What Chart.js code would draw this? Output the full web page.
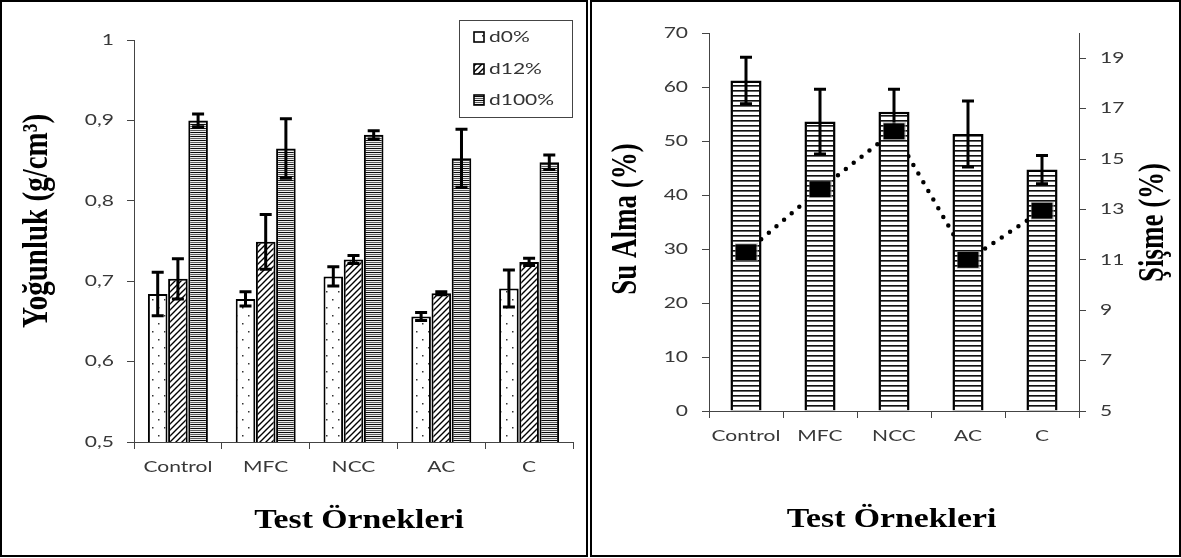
<!DOCTYPE html>
<html>
<head>
<meta charset="utf-8">
<script src="https://cdn.jsdelivr.net/npm/chart.js@4.4.1/dist/chart.umd.min.js"></script>
<style>
  html, body { margin: 0; padding: 0; background: #fff; overflow: hidden; }
  .panel { position: absolute; top: 0; height: 557px; }
  .panel .frame { position: absolute; left: 0; top: 0; right: 0; bottom: 0; border: 2px solid #000; box-sizing: border-box; pointer-events: none; }
  #left { left: 0; width: 588px; }
  #right { left: 590px; width: 591px; }
  canvas { position: absolute; left: 0; top: 0; }
</style>
</head>
<body>
<div class="panel" id="left"><canvas id="densityChart" width="588" height="557"></canvas><div class="frame"></div></div>
<div class="panel" id="right"><canvas id="waterChart" width="591" height="557"></canvas><div class="frame"></div></div>
<script>
// ortak kategoriler
const SAMPLES = ['Control', 'MFC', 'NCC', 'AC', 'C'];

// sol grafik: yoğunluk
const SERIES = ['d0%', 'd12%', 'd100%'];
const D0 = [0.684, 0.678, 0.706, 0.656, 0.691];
const D0_ERR = [0.027, 0.009, 0.012, 0.005, 0.023];
const D12 = [0.703, 0.749, 0.727, 0.685, 0.724];
const D12_ERR = [0.025, 0.034, 0.005, 0.002, 0.0045];
const D100 = [0.900, 0.865, 0.882, 0.853, 0.848];
const D100_ERR = [0.008, 0.037, 0.005, 0.036, 0.009];
const DENSITY_TICKS = [0.5, 0.6, 0.7, 0.8, 0.9, 1];
const DENSITY_TICK_LABELS = ['0,5', '0,6', '0,7', '0,8', '0,9', '1'];

// sağ grafik: su alma (çubuk) ve şişme (çizgi)
const WATER = [61.2, 53.6, 55.4, 51.3, 44.7];
const WATER_ERR = [4.3, 6.0, 4.2, 6.1, 2.6];
const SWELL = [11.3, 13.8, 16.1, 11.0, 12.95];
const WATER_TICKS = [0, 10, 20, 30, 40, 50, 60, 70];
const SWELL_TICKS = [5, 7, 9, 11, 13, 15, 17, 19];

const LABEL_FONT = '15px Lato, "Open Sans", sans-serif';
const TITLE_FONT = 'bold 27px "Liberation Serif", "Times New Roman", serif';
const LABEL_COLOR = '#383838';

function makePattern(w, h, paint) {
  const c = document.createElement('canvas');
  c.width = w; c.height = h;
  const g = c.getContext('2d');
  g.fillStyle = '#fff';
  g.fillRect(0, 0, w, h);
  paint(g);
  return g.createPattern(c, 'repeat');
}

const dotFill = makePattern(12, 16, g => {
  g.fillStyle = '#333';
  g.fillRect(2, 3, 1.5, 1.5);
  g.fillRect(8, 11, 1.5, 1.5);
});
const hatchFill = makePattern(6, 6, g => {
  g.strokeStyle = '#000';
  g.lineWidth = 1.4;
  g.beginPath();
  g.moveTo(-1, 7); g.lineTo(7, -1);
  g.moveTo(-1, 1); g.lineTo(1, -1);
  g.moveTo(5, 7); g.lineTo(7, 5);
  g.stroke();
});
const greyStripes = makePattern(1, 4, g => {
  g.fillStyle = '#0a0a0a'; g.fillRect(0, 0, 1, 1);
  g.fillStyle = '#eeeeee'; g.fillRect(0, 1, 1, 1);
  g.fillStyle = '#5c5c5c'; g.fillRect(0, 2, 1, 1);
  g.fillStyle = '#eeeeee'; g.fillRect(0, 3, 1, 1);
});
const blackStripes = makePattern(1, 5, g => {
  g.fillStyle = '#111'; g.fillRect(0, 0, 1, 1);
  g.fillStyle = '#666'; g.fillRect(0, 1, 1, 1);
});

// kare işaretçi
const marker = document.createElement('canvas');
marker.width = 23; marker.height = 18;
(function () {
  const g = marker.getContext('2d');
  g.fillStyle = '#000';
  g.fillRect(1, 1, 21, 16);
  g.strokeStyle = '#aaa';
  g.setLineDash([1, 1]);
  g.strokeRect(0.5, 0.5, 22, 17);
})();

// metni yatayda genişleterek yaz
function wideText(ctx, text, x, y, o) {
  ctx.save();
  ctx.translate(x, y);
  ctx.scale(o.stretch || 1, 1);
  if (o.rotate) ctx.rotate(o.rotate);
  ctx.font = o.font;
  ctx.fillStyle = o.color || '#000';
  ctx.textAlign = o.align || 'center';
  ctx.textBaseline = 'middle';
  ctx.fillText(text, 0, 0);
  ctx.restore();
}

function drawAxisLabels(chart, id, gap) {
  const s = chart.scales[id];
  const ctx = chart.ctx;
  const base = { font: LABEL_FONT, stretch: 1.4, color: LABEL_COLOR };
  s.ticks.forEach((t, i) => {
    if (s.isHorizontal()) {
      wideText(ctx, t.label, s.getPixelForTick(i), s.top + gap, base);
    } else if (s.position === 'left') {
      wideText(ctx, t.label, s.right - gap, s.getPixelForValue(t.value), Object.assign({ align: 'right' }, base));
    } else {
      wideText(ctx, t.label, s.left + gap, s.getPixelForValue(t.value), Object.assign({ align: 'left' }, base));
    }
  });
}

const errorBars = {
  id: 'errorBars',
  afterDatasetDraw(chart, args) {
    const ds = chart.data.datasets[args.index];
    if (!ds.errorBars) return;
    const yScale = chart.scales[args.meta.yAxisID];
    const ctx = chart.ctx;
    ctx.save();
    ctx.strokeStyle = '#000';
    ctx.lineWidth = 3;
    args.meta.data.forEach((bar, i) => {
      const v = ds.data[i], e = ds.errorBars[i];
      const top = yScale.getPixelForValue(v + e);
      const bot = yScale.getPixelForValue(v - e);
      ctx.beginPath();
      ctx.moveTo(bar.x, top); ctx.lineTo(bar.x, bot);
      ctx.moveTo(bar.x - 6, top); ctx.lineTo(bar.x + 6, top);
      ctx.moveTo(bar.x - 6, bot); ctx.lineTo(bar.x + 6, bot);
      ctx.stroke();
    });
    ctx.restore();
  }
};

const axisLine = { color: '#444', width: 1 };
const tickGrid = { drawOnChartArea: false, tickLength: 7, color: '#444' };

// ---------- sol ----------
const densityText = {
  id: 'densityText',
  afterDraw(chart) {
    const ctx = chart.ctx;
    drawAxisLabels(chart, 'y', 20);
    drawAxisLabels(chart, 'x', 25);
    wideText(ctx, 'Yoğunluk (g/cm³)', 37.5, 221, { font: 'bold 29px "Liberation Serif", "Times New Roman", serif', stretch: 1.25, rotate: -Math.PI / 2 });
    wideText(ctx, 'Test Örnekleri', 359, 521, { font: TITLE_FONT, stretch: 1.25 });

    // lejant kutusu
    ctx.save();
    ctx.strokeStyle = '#444';
    ctx.lineWidth = 1;
    ctx.strokeRect(459.5, 20.5, 113, 97);
    const rows = [37, 69, 100];
    chart.data.datasets.forEach((ds, i) => {
      const y = rows[i];
      ctx.fillStyle = ds.backgroundColor;
      ctx.fillRect(474, y - 5, 10, 10);
      ctx.strokeStyle = '#000';
      ctx.lineWidth = 1.6;
      ctx.strokeRect(474, y - 5, 10, 10);
      wideText(ctx, ds.label, 489, y, { font: LABEL_FONT, stretch: 1.4, color: '#333', align: 'left' });
    });
    ctx.restore();
  }
};

new Chart(document.getElementById('densityChart'), {
  type: 'bar',
  data: {
    labels: SAMPLES,
    datasets: [
      { label: SERIES[0], data: D0, errorBars: D0_ERR, backgroundColor: dotFill },
      { label: SERIES[1], data: D12, errorBars: D12_ERR, backgroundColor: hatchFill },
      { label: SERIES[2], data: D100, errorBars: D100_ERR, backgroundColor: greyStripes }
    ]
  },
  options: {
    responsive: false,
    animation: false,
    layout: { padding: { left: 0, top: 40, right: 15, bottom: 75 } },
    datasets: { bar: { categoryPercentage: 0.69, barPercentage: 0.97, borderColor: '#000', borderWidth: 2 } },
    plugins: { legend: { display: false }, tooltip: { enabled: false } },
    scales: {
      x: {
        type: 'category', offset: true,
        grid: Object.assign({ offset: true }, tickGrid), border: axisLine,
        ticks: { display: false },
        afterFit: s => { s.height = 40; }
      },
      y: {
        min: 0.5, max: 1,
        grid: tickGrid, border: axisLine,
        ticks: { display: false, callback: (v, i) => DENSITY_TICK_LABELS[i] },
        afterBuildTicks: s => { s.ticks = DENSITY_TICKS.map(v => ({ value: v })); },
        afterFit: s => { s.width = 134; }
      }
    }
  },
  plugins: [errorBars, densityText]
});

// ---------- sağ ----------
const waterText = {
  id: 'waterText',
  afterDraw(chart) {
    const ctx = chart.ctx;
    drawAxisLabels(chart, 'y', 21);
    drawAxisLabels(chart, 'y2', 21);
    drawAxisLabels(chart, 'x', 25);
    wideText(ctx, 'Su Alma (%)', 37, 219, { font: TITLE_FONT, stretch: 1.3, rotate: -Math.PI / 2 });
    wideText(ctx, 'Şişme (%)', 563.5, 222.5, { font: TITLE_FONT, stretch: 1.3, rotate: -Math.PI / 2 });
    wideText(ctx, 'Test Örnekleri', 301.5, 520, { font: TITLE_FONT, stretch: 1.25 });
  }
};

new Chart(document.getElementById('waterChart'), {
  type: 'bar',
  data: {
    labels: SAMPLES,
    datasets: [
      {
        type: 'line', label: 'Şişme', data: SWELL, yAxisID: 'y2', order: 2,
        borderColor: '#000', borderWidth: 4.5, borderDash: [0, 10], borderCapStyle: 'round',
        pointRadius: 0, fill: false
      },
      {
        type: 'bar', label: 'Su Alma', data: WATER, errorBars: WATER_ERR, yAxisID: 'y', order: 1,
        backgroundColor: blackStripes, borderColor: '#000', borderWidth: 2.5,
        categoryPercentage: 0.42, barPercentage: 1
      },
      {
        type: 'line', label: 'Şişme', data: SWELL, yAxisID: 'y2', order: 0,
        showLine: false, pointStyle: marker, pointRadius: 11
      }
    ]
  },
  options: {
    responsive: false,
    animation: false,
    layout: { padding: { left: 0, top: 33, right: 0, bottom: 106 } },
    plugins: { legend: { display: false }, tooltip: { enabled: false } },
    scales: {
      x: {
        type: 'category', offset: true,
        grid: Object.assign({ offset: true }, tickGrid), border: axisLine,
        ticks: { display: false },
        afterFit: s => { s.height = 40; }
      },
      y: {
        position: 'left', min: 0, max: 70,
        grid: tickGrid, border: axisLine,
        ticks: { display: false },
        afterBuildTicks: s => { s.ticks = WATER_TICKS.map(v => ({ value: v })); },
        afterFit: s => { s.width = 119; }
      },
      y2: {
        position: 'right', min: 5, max: 20,
        grid: tickGrid, border: axisLine,
        ticks: { display: false },
        afterBuildTicks: s => { s.ticks = SWELL_TICKS.map(v => ({ value: v })); },
        afterFit: s => { s.width = 102; }
      }
    }
  },
  plugins: [errorBars, waterText]
});
</script>
</body>
</html>
